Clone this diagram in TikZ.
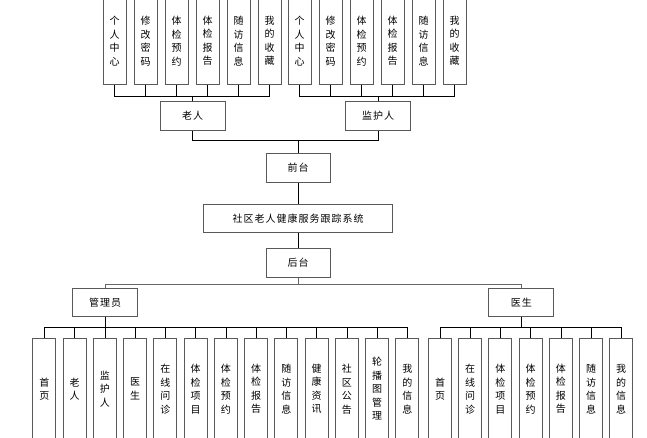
\documentclass[tikz,border=0pt]{standalone}
\usepackage{fontspec}
\setmainfont{Noto Sans CJK SC}[LetterSpace=10]
\usetikzlibrary{positioning}

\tikzset{
  box/.style={draw=black!65, line width=1pt, minimum width=65pt, minimum height=28.5pt, inner sep=1pt, font=\fontsize{10}{13.5}\selectfont},
  col/.style={box, minimum width=23pt, text width=14pt, align=center},
  link/.style={black, line width=0.6pt},
}

\begin{document}
\begin{tikzpicture}[x=1pt,y=-1pt]
\useasboundingbox (0,0) rectangle (647,438);

% front end
\node[box] (laoren) at (192.7,116) {老人};
\node[box] (jianhu) at (378.2,116) {监护人};
\node[box, minimum width=64pt] (qiantai) at (298,168) {前台};
\node[box, minimum width=189pt] (xitong) [below=21pt of qiantai] {社区老人健康服务跟踪系统};
\node[box, minimum width=64pt] (houtai) [below=15pt of xitong] {后台};

% back end
\node[box] (guanli) at (105,302.3) {管理员};
\node[box] (yisheng) at (521.3,302.3) {医生};

% columns of the elder
\foreach \t [count=\i from 0] in {{个\\人\\中\\心},{修\\改\\密\\码},{体\\检\\预\\约},{体\\检\\报\\告},{随\\访\\信\\息},{我\\的\\收\\藏}}
  \node[col, minimum height=88pt] (lr\i) at (114.5+31*\i,41) {\t};
% columns of the guardian
\foreach \t [count=\i from 0] in {{个\\人\\中\\心},{修\\改\\密\\码},{体\\检\\预\\约},{体\\检\\报\\告},{随\\访\\信\\息},{我\\的\\收\\藏}}
  \node[col, minimum height=88pt] (jh\i) at (299.5+31*\i,41) {\t};

% columns of the admin
\foreach \t [count=\i from 0] in {{首\\页},{老\\人},{监\\护\\人},{医\\生},{在\\线\\问\\诊},{体\\检\\项\\目},{体\\检\\预\\约},{体\\检\\报\\告},{随\\访\\信\\息},{健\\康\\资\\讯},{社\\区\\公\\告},{轮\\播\\图\\管\\理},{我\\的\\信\\息}}
  \node[col, minimum height=102pt] (gl\i) at (44.4+30.25*\i,389) {\t};
% columns of the doctor
\foreach \t [count=\i from 0] in {{首\\页},{在\\线\\问\\诊},{体\\检\\项\\目},{体\\检\\预\\约},{体\\检\\报\\告},{随\\访\\信\\息},{我\\的\\信\\息}}
  \node[col, minimum height=102pt] (ys\i) at (440+30.2*\i,389) {\t};

% links
\foreach \i in {0,...,5} {
  \draw[link] (laoren.north) -- ++(0,-5) -| (lr\i.south);
  \draw[link] (jianhu.north) -- ++(0,-5) -| (jh\i.south);
}
\draw[link] (qiantai.north) -- ++(0,-13) -| (laoren.south);
\draw[link] (qiantai.north) -- ++(0,-13) -| (jianhu.south);
\draw[link] (qiantai) -- (xitong);
\draw[link] (xitong) -- (houtai);
\draw[link, black!60, line width=1pt] (houtai.south) -- ++(0,6.5) -| (guanli.north);
\draw[link, black!60, line width=1pt] (houtai.south) -- ++(0,6.5) -| (yisheng.north);
\foreach \i in {0,...,12}
  \draw[link] (guanli.south) -- ++(0,10.5) -| (gl\i.north);
\foreach \i in {0,...,6}
  \draw[link] (yisheng.south) -- ++(0,10.5) -| (ys\i.north);
\end{tikzpicture}
\end{document}
